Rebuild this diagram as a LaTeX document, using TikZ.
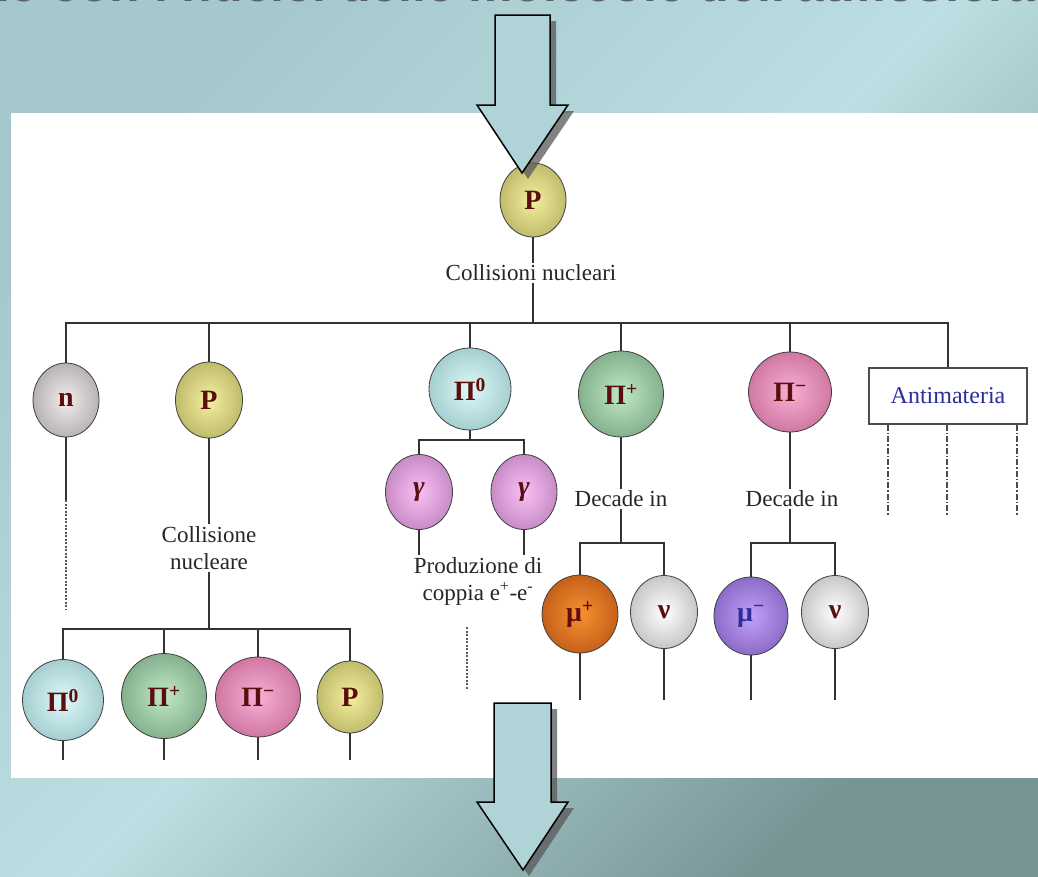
\documentclass[tikz,border=0pt]{standalone}
\usepackage{fontspec}
\setmainfont{Liberation Serif}
\newfontfamily\sansf{Liberation Sans}
\usetikzlibrary{shapes.geometric}
\colorlet{ballin}{white}
\colorlet{ballmid}{gray}
\colorlet{ballout}{black}
\pgfdeclareradialshading[ballin,ballmid,ballout]{ball}{\pgfpoint{0bp}{0bp}}{color(0bp)=(ballin); color(22bp)=(ballmid); color(50bp)=(ballout)}
\definecolor{bgA}{HTML}{A4C8CB}
\definecolor{bgB}{HTML}{BBDFE2}
\definecolor{bgC}{HTML}{789596}
\definecolor{arrowc}{HTML}{AFD3D6}
\definecolor{pdark}{HTML}{5A0E0E}
\definecolor{antic}{HTML}{2E2E9A}
\definecolor{titlec}{HTML}{5A6264}
\definecolor{pIn}{HTML}{F6F0A0}\definecolor{pOut}{HTML}{7E7E2C}
\definecolor{nIn}{HTML}{F4ECEE}\definecolor{nOut}{HTML}{6E6E6E}
\definecolor{zIn}{HTML}{E0F8F8}\definecolor{zOut}{HTML}{5E9EA2}
\definecolor{gpIn}{HTML}{C0E8C8}\definecolor{gpOut}{HTML}{3E7048}
\definecolor{mIn}{HTML}{F8B0D4}\definecolor{mOut}{HTML}{A03468}
\definecolor{yIn}{HTML}{F8C0F4}\definecolor{yOut}{HTML}{8E4E90}
\definecolor{oIn}{HTML}{F89030}\definecolor{oOut}{HTML}{8A2800}
\definecolor{vIn}{HTML}{C0A0F8}\definecolor{vOut}{HTML}{4E2E90}
\definecolor{wIn}{HTML}{FFFFFF}\definecolor{wOut}{HTML}{858585}
\tikzset{
  ball/.style 2 args={ellipse, draw=black!75, line width=0.8pt, inner sep=0pt,
    /utils/exec={\colorlet{ballin}{#1}\colorlet{ballout}{#2}\colorlet{ballmid}{#1!60!#2}},
    shade, shading=ball, text=pdark, font=\fontsize{28}{30}\selectfont\bfseries},
  sz/.style 2 args={minimum width=#1pt, minimum height=#2pt},
  conn/.style={draw=black!80, line width=1.3pt},
  dotconn/.style={draw=black!65, line width=1.4pt, dash pattern=on 2pt off 1.5pt},
  dashdotconn/.style={draw=black!70, line width=1.3pt, dash pattern=on 6pt off 2pt on 1.5pt off 2pt},
  lab/.style={font=\fontsize{23}{27}\selectfont, text=black!85, align=center, inner sep=2pt},
  bigarrow/.style={fill=arrowc, draw=black, line width=1.5pt, line join=miter},
  arrowshadow/.style={fill=black!65, opacity=0.75},
}
\begin{document}
\begin{tikzpicture}[x=1pt,y=-1pt]
\useasboundingbox (0,0) rectangle (1038,876);
% background
\fill[top color=bgA, bottom color=bgC, middle color=bgB, shading angle=45] (0,0) rectangle (1038,876);
% cut-off title (only the lower edge of its letters is in the picture)
\node[anchor=base east, inner sep=0pt, font=\sansf\bfseries\fontsize{50}{54}\selectfont, text=titlec] (title) at (1036,1) {ne con i nuclei delle molecole dell'atmosfera};
% white panel
\fill[white] (11,113) rectangle (1038,778);

% top level
\node[ball={pIn}{pOut}, sz={66}{74}] (P0) at (533,200) {P};
\node[lab] (L1) at (531,273) {Collisioni nucleari};
\coordinate (B1) at (533,323);

\node[ball={nIn}{nOut}, sz={66}{74}] (n) at (66,400) {n};
\node[ball={pIn}{pOut}, sz={67}{76}] (P1) at (209,400) {P};
\node[ball={zIn}{zOut}, sz={82}{82}] (pi0) at (470,389) {Π\textsuperscript{0}};
\node[ball={gpIn}{gpOut}, sz={85}{86}] (pip) at (621,394) {Π\textsuperscript{+}};
\node[ball={mIn}{mOut}, sz={83}{80}] (pim) at (790,392) {Π\textsuperscript{−}};
\node[draw=black!70, line width=1.3pt, fill=white, minimum width=158pt, minimum height=56pt, inner sep=0pt,
      font=\fontsize{24}{26}\selectfont, text=antic] (anti) at (948,396) {Antimateria};

\draw[conn] (P0) -- (P0 |- L1.north);
\draw[conn] (P0 |- L1.south) -- (B1);
\draw[conn] (B1) -| (n);
\draw[conn] (B1) -| (P1);
\draw[conn] (B1) -| (pi0);
\draw[conn] (B1) -| (pip);
\draw[conn] (B1) -| (pim);
\draw[conn] (B1) -| (anti);

% neutron branch
\coordinate (n1) at (66,500);
\coordinate (n2) at (66,610);
\draw[conn] (n) -- (n1);
\draw[dotconn] (n1) -- (n2);

% proton branch
\node[lab] (L2) at (209,548) {Collisione\\nucleare};
\coordinate (B2) at (209,629);
\draw[conn] (P1) -- (L2);
\draw[conn] (L2) -- (B2);
\node[ball={zIn}{zOut}, sz={81}{81}] (q1) at (63,700) {Π\textsuperscript{0}};
\node[ball={gpIn}{gpOut}, sz={85}{85}] (q2) at (164,696) {Π\textsuperscript{+}};
\node[ball={mIn}{mOut}, sz={85}{80}] (q3) at (258,697) {Π\textsuperscript{−}};
\node[ball={pIn}{pOut}, sz={66}{72}] (q4) at (350,697) {P};
\draw[conn] (B2) -| (q1);
\draw[conn] (B2) -| (q2);
\draw[conn] (B2) -| (q3);
\draw[conn] (B2) -| (q4);
\coordinate (e1) at (63,760);
\coordinate (e2) at (164,760);
\coordinate (e3) at (258,760);
\coordinate (e4) at (350,760);
\draw[conn] (q1) -- (e1);
\draw[conn] (q2) -- (e2);
\draw[conn] (q3) -- (e3);
\draw[conn] (q4) -- (e4);

% pi0 branch
\coordinate (B3) at (470,440);
\draw[conn] (pi0) -- (B3);
\node[ball={yIn}{yOut}, sz={67}{75}, font=\fontsize{28}{30}\selectfont\bfseries\itshape] (g1) at (419,492) {γ};
\node[ball={yIn}{yOut}, sz={66}{75}, font=\fontsize{28}{30}\selectfont\bfseries\itshape] (g2) at (524,492) {γ};
\draw[conn] (B3) -| (g1);
\draw[conn] (B3) -| (g2);
\node[lab] (L3) at (478,581) {Produzione di\\coppia e\textsuperscript{+}-e\textsuperscript{-}};
\draw[conn] (g1) -- (g1 |- L3.north);
\draw[conn] (g2) -- (g2 |- L3.north);
\coordinate (d1) at (467,627);
\coordinate (d2) at (467,690);
\draw[dotconn] (d1) -- (d2);

% pi+ branch
\node[lab] (L4) at (621,499) {Decade in};
\coordinate (B4) at (621,543);
\draw[conn] (pip) -- (pip |- L4.north);
\draw[conn] (pip |- L4.south) -- (B4);
\node[ball={oIn}{oOut}, sz={76}{78}] (mup) at (580,614) {μ\textsuperscript{+}};
\node[ball={wIn}{wOut}, sz={67}{73}] (nu1) at (664,612) {ν};
\draw[conn] (B4) -| (mup);
\draw[conn] (B4) -| (nu1);
\coordinate (f1) at (580,700);
\coordinate (f2) at (664,700);
\draw[conn] (mup) -- (f1);
\draw[conn] (nu1) -- (f2);

% pi- branch
\node[lab] (L5) at (792,499) {Decade in};
\coordinate (B5) at (790,543);
\draw[conn] (pim) -- (pim |- L5.north);
\draw[conn] (pim |- L5.south) -- (B5);
\node[ball={vIn}{vOut}, sz={74}{78}, text=antic] (mum) at (751,616) {μ\textsuperscript{−}};
\node[ball={wIn}{wOut}, sz={67}{73}] (nu2) at (835,612) {ν};
\draw[conn] (B5) -| (mum);
\draw[conn] (B5) -| (nu2);
\coordinate (h1) at (751,700);
\coordinate (h2) at (835,700);
\draw[conn] (mum) -- (h1);
\draw[conn] (nu2) -- (h2);

% antimatter branches
\coordinate (a1) at (888,515);
\coordinate (a2) at (947,515);
\coordinate (a3) at (1017,515);
\draw[dashdotconn] (anti.south -| a1) -- (a1);
\draw[dashdotconn] (anti.south -| a2) -- (a2);
\draw[dashdotconn] (anti.south -| a3) -- (a3);

% big arrows
\fill[arrowshadow] (501,21) -- (556,21) -- (556,111) -- (574,111) -- (528,179) -- (483,111) -- (501,111) -- cycle;
\draw[bigarrow] (495,15) -- (550,15) -- (550,105) -- (568,105) -- (522,173) -- (477,105) -- (495,105) -- cycle;
\fill[arrowshadow] (500,709) -- (557,709) -- (557,808) -- (574,808) -- (529,876) -- (483,808) -- (500,808) -- cycle;
\draw[bigarrow] (494,703) -- (551,703) -- (551,802) -- (568,802) -- (523,870) -- (477,802) -- (494,802) -- cycle;
\end{tikzpicture}
\end{document}
